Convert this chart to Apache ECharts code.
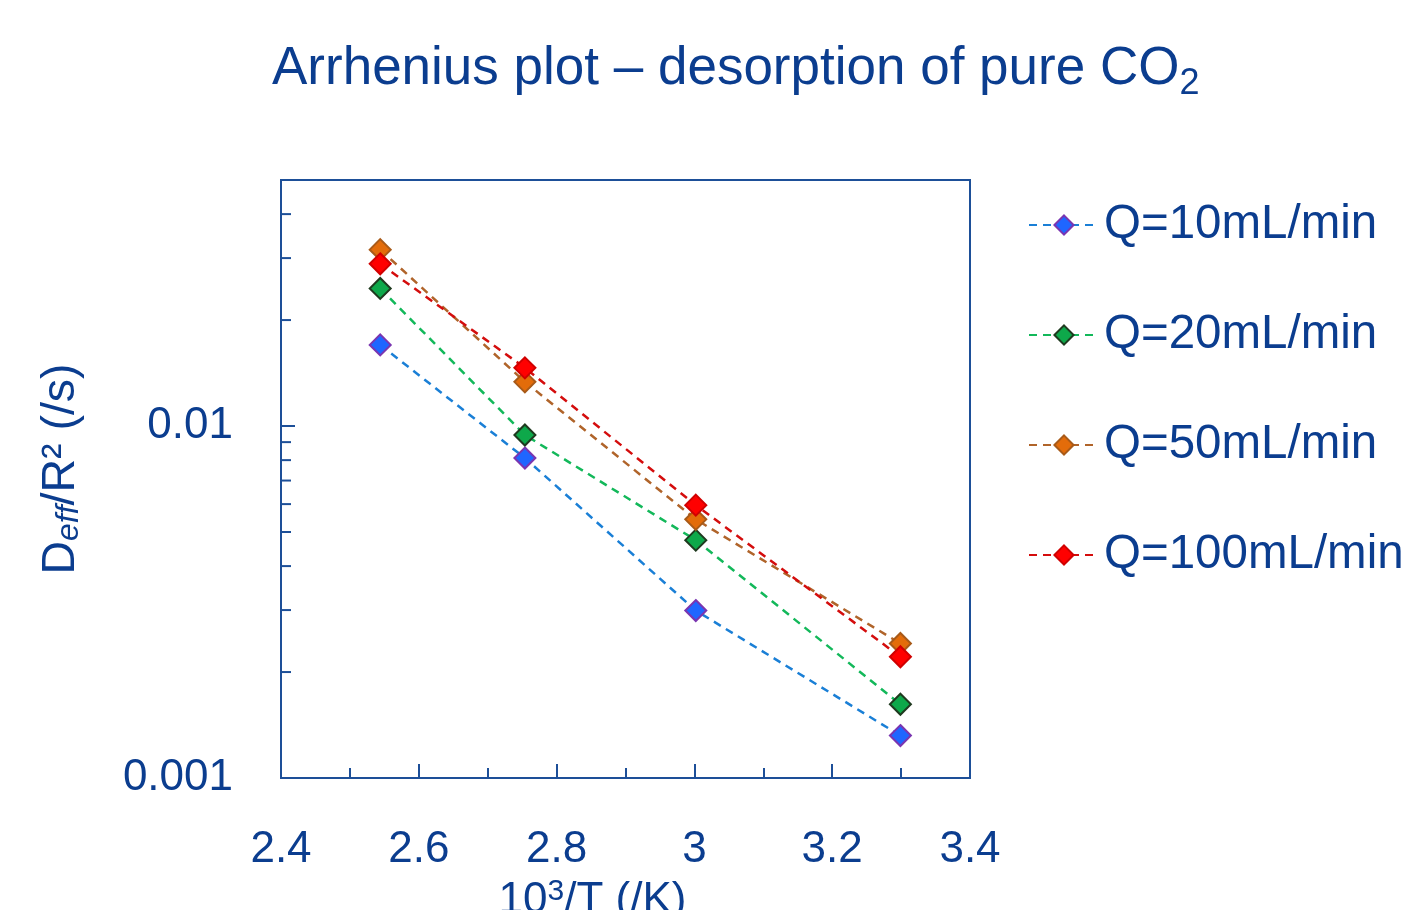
<!DOCTYPE html>
<html>
<head>
<meta charset="utf-8">
<script src="https://cdn.jsdelivr.net/npm/echarts@6/dist/echarts.min.js"></script>
<style>
  html, body { margin: 0; padding: 0; background: #fff; }
  #chart { width: 1406px; height: 910px; }
</style>
</head>
<body>
<div id="chart"></div>
<script>
// 10^3/T for 120, 90, 60, 30 °C
const invT = [2.544, 2.754, 3.002, 3.299];
const seriesNames = ['Q=10mL/min', 'Q=20mL/min', 'Q=50mL/min', 'Q=100mL/min'];
const q10 = [0.0170, 0.00811, 0.00299, 0.00132];
const q20 = [0.0246, 0.00943, 0.00474, 0.00162];
const q50 = [0.0317, 0.01335, 0.00543, 0.00241];
const q100 = [0.0289, 0.01463, 0.00596, 0.00221];
const yMinorTicks = [0.002, 0.003, 0.004, 0.005, 0.006, 0.007, 0.008, 0.009, 0.02, 0.03, 0.04];

const textColor = '#0b3d8f';
const axisColor = '#1d4f98';
const font = 'Liberation Sans, Arial, sans-serif';

const styles = [
  { line: '#1a7fd6', fill: '#1f66ff', border: '#7a35b0' },
  { line: '#13b85a', fill: '#0ea84a', border: '#1f3a1f' },
  { line: '#b0642a', fill: '#e36c0a', border: '#a85a18' },
  { line: '#d40d0d', fill: '#ff0000', border: '#d00000' }
];
const values = [q10, q20, q50, q100];

const chart = echarts.init(document.getElementById('chart'));

const series = seriesNames.map((name, i) => ({
  name: name,
  type: 'line',
  data: invT.map((x, j) => [x, values[i][j]]),
  symbol: 'diamond',
  symbolSize: 21,
  z: 3 + i,
  lineStyle: { color: styles[i].line, width: 2.5, type: [8, 6] },
  itemStyle: { color: styles[i].fill, borderColor: styles[i].border, borderWidth: 2 }
}));

// minor ticks of the log axis
series.push({
  type: 'custom',
  silent: true,
  z: 1,
  data: yMinorTicks.map(v => [2.4, v]),
  encode: { x: 0, y: 1 },
  clip: false,
  renderItem: (params, api) => {
    const p = api.coord([api.value(0), api.value(1)]);
    return {
      type: 'line',
      shape: { x1: p[0], y1: p[1], x2: p[0] + 10, y2: p[1] },
      style: { stroke: axisColor, lineWidth: 2 }
    };
  }
});

const option = {
  animation: false,
  backgroundColor: '#fff',
  title: {
    text: '{a|Arrhenius plot – desorption of pure CO}{sub|2}',
    left: 267,
    top: 31,
    textStyle: {
      fontWeight: 'normal',
      rich: {
        a: { fontFamily: font, fontSize: 53, fontWeight: 'normal', color: textColor },
        sub: { fontFamily: font, fontSize: 36, fontWeight: 'normal', color: textColor, padding: [30, 0, 0, 0] }
      }
    }
  },
  legend: {
    data: seriesNames,
    orient: 'vertical',
    left: 1023,
    top: 196,
    itemGap: 62,
    itemWidth: 70,
    itemHeight: 24,
    textStyle: { fontFamily: font, fontSize: 47.5, color: textColor }
  },
  grid: {
    left: 281,
    right: 436,
    top: 180,
    bottom: 132,
    outerBoundsMode: 'none',
    show: true,
    borderColor: axisColor,
    borderWidth: 2
  },
  xAxis: {
    type: 'value',
    min: 2.4,
    max: 3.4,
    interval: 0.2,
    name: '10{sup|3}/T (/K)',
    nameLocation: 'middle',
    nameGap: 92,
    nameTextStyle: {
      fontFamily: font, fontSize: 44, color: textColor, padding: [0, 66, 0, 0],
      rich: {
        sup: { fontFamily: font, fontSize: 30, color: textColor, padding: [0, 0, 18, 0] }
      }
    },
    axisLine: { lineStyle: { color: axisColor, width: 2 } },
    axisTick: { inside: true, length: 14, lineStyle: { color: axisColor, width: 2 } },
    minorTick: { show: true, splitNumber: 2, length: 10, lineStyle: { color: axisColor, width: 2 } },
    splitLine: { show: false },
    axisLabel: { fontFamily: font, fontSize: 44, color: textColor, margin: 50 }
  },
  yAxis: {
    type: 'log',
    logBase: 10,
    min: 0.001,
    max: 0.05,
    name: '{a|D}{sub|eff}{a|/R² (/s)}',
    nameLocation: 'middle',
    nameGap: 196,
    nameRotate: 90,
    nameTextStyle: {
      padding: [0, 0, 0, 20],
      rich: {
        a: { fontFamily: font, fontSize: 46.5, color: textColor },
        sub: { fontFamily: font, fontSize: 32, fontStyle: 'italic', color: textColor, padding: [16, 0, 0, 0] }
      }
    },
    axisLine: { lineStyle: { color: axisColor, width: 2 } },
    axisTick: { inside: true, length: 14, lineStyle: { color: axisColor, width: 2 } },
    splitLine: { show: false },
    axisLabel: {
      fontFamily: font,
      fontSize: 44,
      color: textColor,
      margin: 48,
      formatter: v => {
        const e = Math.log10(v);
        if (Math.abs(e - Math.round(e)) > 1e-6) return '';
        return Math.round(e) === -3 ? '0.001' : '0.01';
      }
    }
  },
  series: series
};

chart.setOption(option);
</script>
</body>
</html>
